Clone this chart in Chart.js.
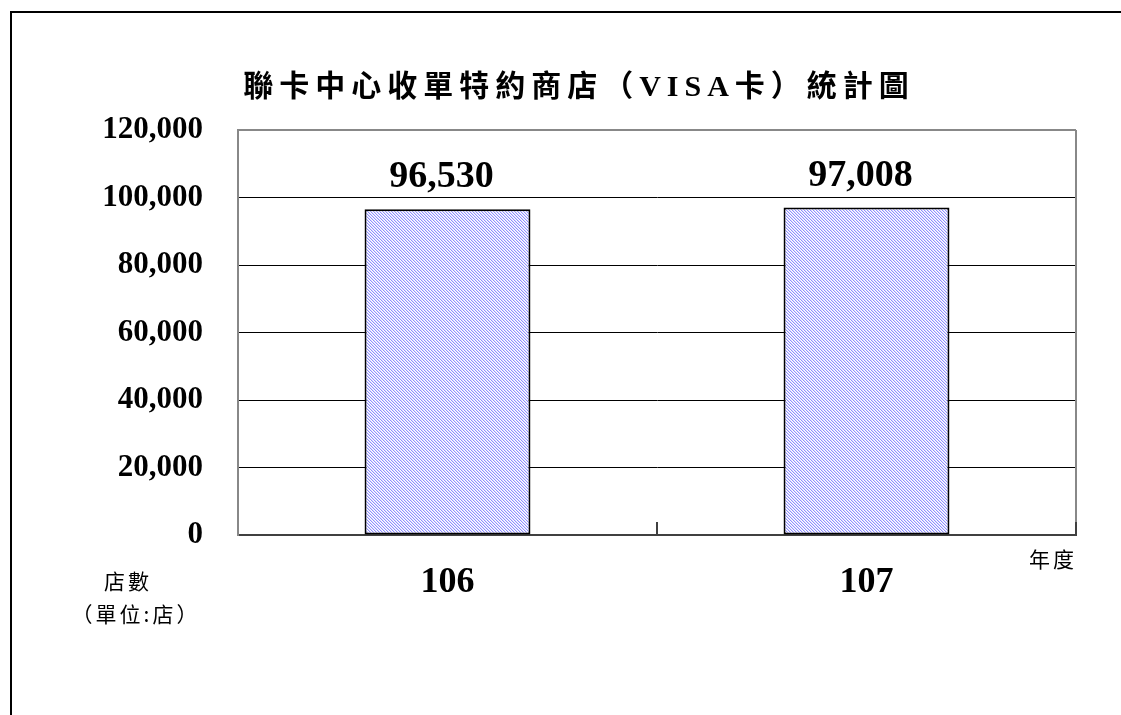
<!DOCTYPE html>
<html>
<head>
<meta charset="utf-8">
<script src="https://cdn.jsdelivr.net/npm/chart.js@4/dist/chart.umd.min.js"></script>
<style>
  html, body { margin: 0; padding: 0; background: #fff; }
  #wrap { position: relative; width: 1121px; height: 715px; }
</style>
</head>
<body>
<div id="wrap"><canvas id="c"></canvas></div>
<script>
const titleText = '聯卡中心收單特約商店（VISA卡）統計圖';
const categories = ['106', '107'];
const storeCounts = [96530, 97008];
const yTicks = [0, 20000, 40000, 60000, 80000, 100000, 120000];
const yAxisNote = ['店數', '（單位:店）'];
const xAxisNote = '年度';

function makeHatch() {
  const t = document.createElement('canvas');
  t.width = 3; t.height = 3;
  const g = t.getContext('2d');
  g.fillStyle = '#ffffff';
  g.fillRect(0, 0, 3, 3);
  for (let i = 0; i < 3; i++) {
    g.fillStyle = '#9090ff';
    g.fillRect(i, i, 1, 1);
    g.fillStyle = '#dcdcff';
    g.fillRect((i + 1) % 3, i, 1, 1);
  }
  return g.createPattern(t, 'repeat');
}

const fmt = v => v.toLocaleString('en-US');
const serif = "'Liberation Serif', 'Times New Roman', 'Noto Sans CJK TC', serif";
const cjk = "'Noto Sans CJK TC', 'Liberation Serif', serif";

const decor = {
  id: 'decor',
  beforeDraw(chart) {
    const ctx = chart.ctx;
    ctx.save();
    ctx.fillStyle = '#000';
    ctx.fillRect(10, 11, 2, chart.height - 11);
    ctx.fillRect(10, 11, chart.width - 10, 2);
    ctx.restore();
  },
  afterDatasetsDraw(chart) {
    const ctx = chart.ctx;
    const a = chart.chartArea;
    const xs = chart.scales.x;
    ctx.save();
    ctx.strokeStyle = '#888';
    ctx.lineWidth = 2;
    ctx.beginPath();
    ctx.moveTo(a.right, a.top);
    ctx.lineTo(a.right, a.bottom);
    ctx.stroke();
    ctx.strokeStyle = '#404040';
    ctx.lineWidth = 2;
    for (let i = 0; i < categories.length; i++) {
      const px = xs.getPixelForValue(i + 0.5);
      ctx.beginPath();
      ctx.moveTo(px, a.bottom);
      ctx.lineTo(px, a.bottom - 13);
      ctx.stroke();
    }
    const meta = chart.getDatasetMeta(0);
    ctx.fillStyle = '#000';
    ctx.font = 'bold 38px ' + serif;
    ctx.textAlign = 'center';
    ctx.textBaseline = 'alphabetic';
    meta.data.forEach((bar, i) => {
      ctx.fillText(fmt(storeCounts[i]), bar.x - 6, bar.y - 22);
    });
    ctx.font = 'bold 30px ' + serif;
    ctx.textBaseline = 'middle';
    ctx.letterSpacing = '6px';
    ctx.fillText(titleText, 579, 88);
    ctx.letterSpacing = '0px';
    ctx.font = '21px ' + cjk;
    ctx.letterSpacing = '3px';
    ctx.fillText(yAxisNote[0], 128, 581);
    ctx.fillText(yAxisNote[1], 136, 614);
    ctx.fillText(xAxisNote, 1053, 559);
    ctx.restore();
  }
};

new Chart(document.getElementById('c'), {
  type: 'bar',
  data: {
    labels: categories,
    datasets: [{
      data: storeCounts,
      backgroundColor: makeHatch(),
      borderColor: '#000',
      borderWidth: 2,
      borderSkipped: false,
      categoryPercentage: 1,
      barPercentage: 0.396
    }]
  },
  options: {
    responsive: true,
    maintainAspectRatio: false,
    animation: false,
    layout: { padding: { top: 130, right: 45, left: 0, bottom: 0 } },
    plugins: { legend: { display: false }, tooltip: { enabled: false }, title: { display: false } },
    scales: {
      x: {
        grid: { display: false, offset: true },
        border: { color: '#404040', width: 2 },
        ticks: { color: '#000', font: { family: serif, size: 36, weight: 'bold' }, padding: 18 },
        afterFit(s) { s.height = 180; }
      },
      y: {
        min: 0, max: 120000,
        afterBuildTicks(s) { s.ticks = yTicks.map(v => ({ value: v })); },
        grid: {
          drawTicks: false,
          color: c => (c.tick && c.tick.value === 120000) ? '#888' : '#000',
          lineWidth: c => (c.tick && c.tick.value === 120000) ? 2 : 1
        },
        border: { color: '#888', width: 2 },
        ticks: {
          color: '#000',
          font: { family: serif, size: 31, weight: 'bold' },
          padding: 35,
          callback: v => fmt(v)
        },
        afterFit(s) { s.width = 238; }
      }
    }
  },
  plugins: [decor]
});
</script>
</body>
</html>
